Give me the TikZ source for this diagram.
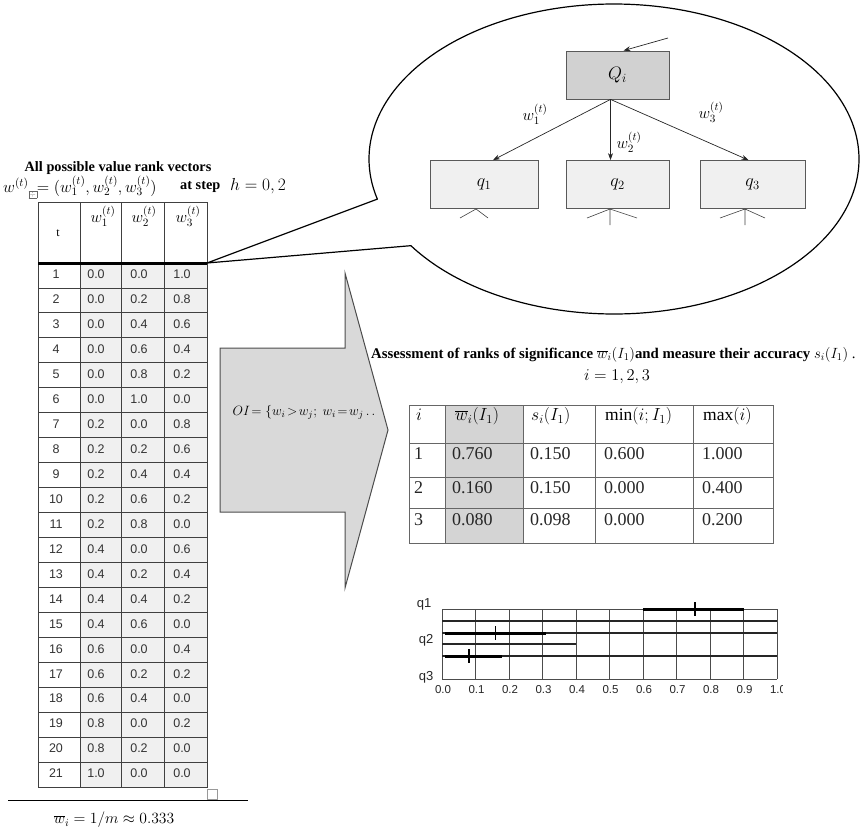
\RequirePackage{fix-cm}
\documentclass[tikz,border=0pt]{standalone}
\usepackage{fontspec}
\setmainfont{Liberation Serif}
\newfontfamily\arialf{Liberation Sans}
\usetikzlibrary{arrows.meta,calc}
\begin{document}
\begin{tikzpicture}[x=1pt,y=-1pt,
  tline/.style={draw=black!75, line width=0.9pt},
  lnum/.style={font={\arialf\fontsize{12.5}{14}\selectfont}, text=black!80, inner sep=0pt},
  lhdr/.style={font={\fontsize{16}{18}\selectfont}, inner sep=0pt},
  rnum/.style={font={\fontsize{18}{20}\selectfont}, anchor=west, inner sep=0pt, text=black!85},
  rhdr/.style={font={\fontsize{17.5}{19}\selectfont}, anchor=west, inner sep=0pt},
  treebox/.style={draw=black!65, line width=0.8pt, inner sep=0pt, minimum height=48pt, fill=black!6, font={\fontsize{18}{20}\selectfont}},
  treearrow/.style={draw=black!85, line width=0.7pt, -{Stealth[length=7pt,width=5pt]}},
  wlab/.style={font={\fontsize{16}{18}\selectfont}, inner sep=0pt},
  chlab/.style={font={\arialf\fontsize{11.5}{13}\selectfont}, inner sep=0pt, text=black!85},
  qlab/.style={font={\arialf\fontsize{13}{14}\selectfont}, inner sep=0pt, text=black!85},
  grid/.style={draw=black!70, line width=0.7pt},
  midline/.style={draw=black!85, line width=1.6pt},
  bar/.style={draw=black, line width=3pt},
  tick/.style={draw=black, line width=1.5pt}
]
\useasboundingbox (0,0) rectangle (864,835);

% ---------- title of the left table ----------
\node[font={\bfseries\fontsize{14.3}{16}\selectfont}, inner sep=0pt] (title) at (118,168) {All possible value rank vectors};
\node[font={\fontsize{16.3}{18}\selectfont}, inner sep=0pt, anchor=west] (vecdef) at (3,187)
  {$w^{(t)}$\raisebox{-4pt}{\setlength\fboxsep{0.8pt}\setlength\fboxrule{0.3pt}\color{black!60}\fbox{\scriptsize$\div$}}$=(w_1^{(t)},w_2^{(t)},w_3^{(t)})$};
\node[font={\bfseries\fontsize{14.3}{16}\selectfont}, inner sep=0pt, anchor=west] (atstep) at (180,187) {at step};
\node[font={\fontsize{17.4}{18}\selectfont}, inner sep=0pt, anchor=west] (hval) at (230,186) {$h=0,2$};

% ---------- left table ----------
\def\rowdata{1/0.0/0.0/1.0, 2/0.0/0.2/0.8, 3/0.0/0.4/0.6, 4/0.0/0.6/0.4,
  5/0.0/0.8/0.2, 6/0.0/1.0/0.0, 7/0.2/0.0/0.8, 8/0.2/0.2/0.6, 9/0.2/0.4/0.4,
  10/0.2/0.6/0.2, 11/0.2/0.8/0.0, 12/0.4/0.0/0.6, 13/0.4/0.2/0.4, 14/0.4/0.4/0.2,
  15/0.4/0.6/0.0, 16/0.6/0.0/0.4, 17/0.6/0.2/0.2, 18/0.6/0.4/0.0, 19/0.8/0.0/0.2,
  20/0.8/0.2/0.0, 21/1.0/0.0/0.0}
\fill[black!6] (80,263) rectangle (207,787);
\foreach \i in {1,...,20} \draw[tline] (38,{263+\i*24.95}) -- (207,{263+\i*24.95});
\foreach \i/\a/\b/\c in \rowdata {
  \pgfmathsetmacro\yc{263+(\i-1)*24.95+11.5}
  \node[lnum] (t\i) at (56,\yc) {\i};
  \node[lnum] (a\i) at (96,\yc) {\a};
  \node[lnum] (b\i) at (139,\yc) {\b};
  \node[lnum] (c\i) at (182,\yc) {\c};
}
\draw[tline] (38,202) rectangle (207,787);
\foreach \x in {80,121,164} \draw[tline] (\x,202) -- (\x,787);
\draw[black, line width=3pt] (38,263) -- (207,263);
\node[font={\fontsize{12}{13}\selectfont}, inner sep=0pt] (ht) at (58,233) {t};
\node[lhdr] (h1) at (103,216) {$w_1^{(t)}$};
\node[lhdr] (h2) at (144,216) {$w_2^{(t)}$};
\node[lhdr] (h3) at (188,216) {$w_3^{(t)}$};
\draw[black!40, line width=0.5pt] (207,789) rectangle (217,799);
\draw[black, line width=1pt] (8,800) -- (248,800);
\node[font={\fontsize{15.6}{17}\selectfont}, inner sep=0pt] (wmean) at (114,820) {$\overline{w}_i=1/m\approx 0.333$};

% ---------- callout ellipse ----------
\coordinate (tip) at (207,263);
\draw[black, line width=1.2pt, line join=round] (tip) -- plot[smooth, domain=165:506, samples=180] ({614+245*cos(\x)},{159+155*sin(\x)}) -- cycle;

% ---------- tree ----------
\node[treebox, minimum width=103pt, fill=black!18] (Q) at (617.5,75) {$Q_i$};
\node[treebox, minimum width=108pt] (q1) at (484,184.5) {$q_1$};
\node[treebox, minimum width=103pt] (q2) at (617.5,184.5) {$q_2$};
\node[treebox, minimum width=105pt] (q3) at (752.5,184.5) {$q_3$};
\coordinate (qin) at (668,38);
\draw[treearrow] (qin) -- ([xshift=6pt]Q.north);
\draw[treearrow] ([xshift=-7pt]Q.south) -- ([xshift=9pt]q1.north);
\draw[treearrow] ([xshift=-7pt]Q.south) -- ([xshift=-7pt]q2.north);
\draw[treearrow] ([xshift=-7pt]Q.south) -- ([xshift=-4pt]q3.north);
\node[wlab] (lw1) at (535,114) {$w_1^{(t)}$};
\node[wlab] (lw2) at (629,142) {$w_2^{(t)}$};
\node[wlab] (lw3) at (711,112) {$w_3^{(t)}$};
% stubs below the q boxes
\draw[black!75, line width=0.6pt] (460,218) -- (476,209) -- (488,218);
\draw[black!75, line width=0.6pt] (587,218) -- (610,209) -- (637,218) (610,209) -- (610,225);
\draw[black!75, line width=0.6pt] (720,218) -- (745,209) -- (765,218) (745,209) -- (745,225);

% ---------- block arrow ----------
\draw[fill=black!15, draw=black!70, line width=1pt, line join=miter]
  (220,348) -- (345,348) -- (345,273) -- (388,430) -- (345,588) -- (345,512) -- (220,512) -- cycle;
\node[font={\fontsize{13.5}{15}\selectfont}, inner sep=0pt] (oi) at (304,412) {$OI\!=\{w_i\!>\!w_j;\ w_i\!=\!w_j\,.\,.$};

% ---------- assessment text ----------
\node[font={\fontsize{14.8}{16}\selectfont}, inner sep=0pt, anchor=west] (assess) at (371,355)
  {\textbf{Assessment of ranks of significance} $\overline{w}_i(I_1)$\textbf{and measure their accuracy} $s_i(I_1)$ .};
\node[font={\fontsize{16.5}{18}\selectfont}, inner sep=0pt] (irange) at (617,377) {$i=1,2,3$};

% ---------- right table ----------
\fill[black!17] (445,405) rectangle (523,543);
\draw[black!60, line width=0.9pt] (409,405) rectangle (773,543);
\foreach \x in {445,523,595,693} \draw[black!60, line width=0.9pt] (\x,405) -- (\x,543);
\foreach \y in {443,477,508} \draw[black!60, line width=0.9pt] (409,\y) -- (773,\y);
\node[rhdr] (ri) at (416,415) {$i$};
\node[rhdr] (rw) at (455,416) {$\overline{w}_i(I_1)$};
\node[rhdr] (rs) at (531,416) {$s_i(I_1)$};
\node[rhdr] (rmin) at (605,416) {$\min(i;I_1)$};
\node[rhdr] (rmax) at (703,416) {$\max(i)$};
\foreach \r/\y/\a/\b/\c/\d in {1/454/0.760/0.150/0.600/1.000, 2/488/0.160/0.150/0.000/0.400, 3/520/0.080/0.098/0.000/0.200} {
  \node[rnum] (rr\r) at (414,\y) {\r};
  \node[rnum] (ra\r) at (452,\y) {\a};
  \node[rnum] (rb\r) at (530,\y) {\b};
  \node[rnum] (rc\r) at (604,\y) {\c};
  \node[rnum] (rd\r) at (702,\y) {\d};
}

% ---------- chart ----------
\foreach \k in {0,...,10} \draw[grid] ({442+33.5*\k},609) -- ({442+33.5*\k},679);
\draw[grid] (442,609) -- (777,609);
\draw[grid] (442,679) -- (777,679);
\draw[midline] (442,621) -- (777,621);
\draw[midline] (442,633) -- (777,633);
\draw[midline] (442,644) -- (576,644);
\draw[midline] (442,656) -- (777,656);
\draw[bar] ({442+335*0.6},609) -- ({442+335*0.9},609);
\draw[bar] ({442+335*0.01},633) -- ({442+335*0.31},633);
\draw[bar] ({442+335*0.01},656) -- ({442+335*0.18},656);
\draw[tick] ({442+335*0.755},602) -- ({442+335*0.755},616);
\draw[tick] ({442+335*0.16},626) -- ({442+335*0.16},640);
\draw[tick] ({442+335*0.08},649) -- ({442+335*0.08},663);
\node[qlab] (lq1) at (424,604) {q1};
\node[qlab] (lq2) at (426,640) {q2};
\node[qlab] (lq3) at (426,677) {q3};
\begin{scope}
\clip (430,680) rectangle (782,700);
\foreach \k/\lab in {0/0.0,1/0.1,2/0.2,3/0.3,4/0.4,5/0.5,6/0.6,7/0.7,8/0.8,9/0.9,10/1.0}
  \node[chlab] (tk\k) at ({443+33.5*\k},690) {\lab};
\end{scope}
\end{tikzpicture}
\end{document}
